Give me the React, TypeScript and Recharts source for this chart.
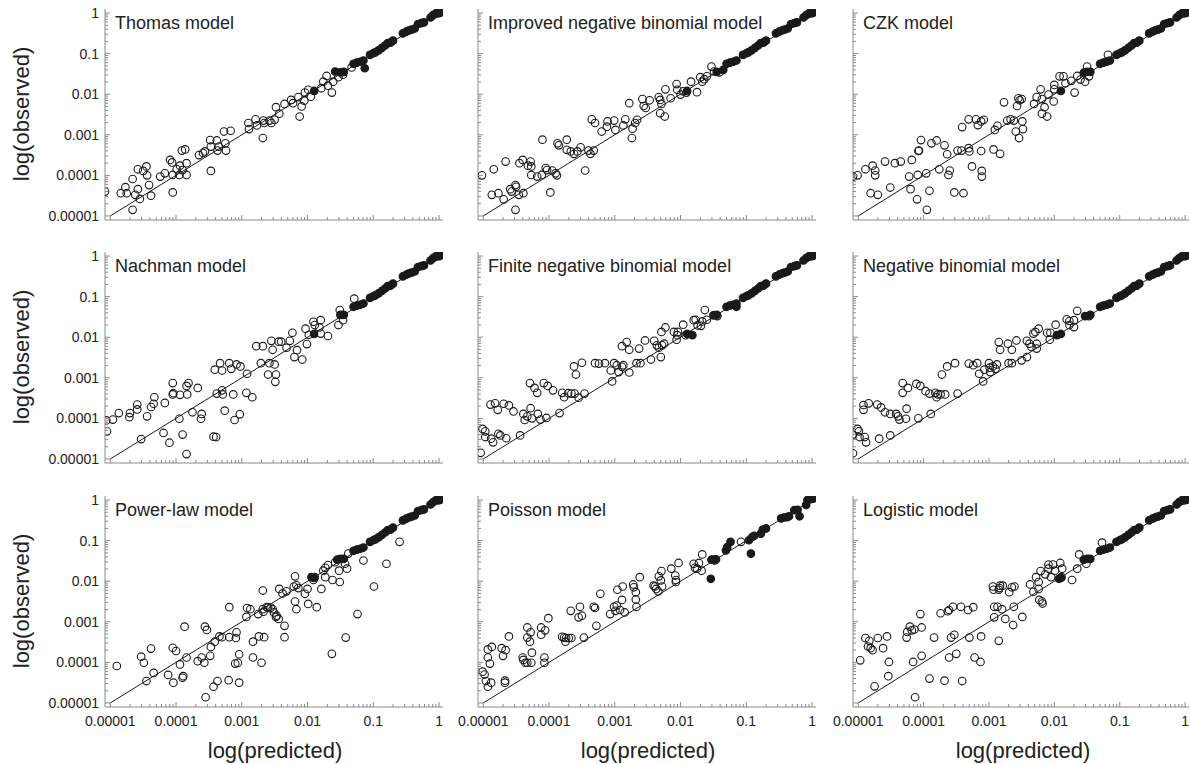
import { ReferenceLine, Scatter, ScatterChart, XAxis, YAxis } from "recharts";

type Pair = [number, number];

// values as log10(predicted), log10(observed)
const decadeTicks = [0.00001, 0.0001, 0.001, 0.01, 0.1, 1];
const decadeLabels = ["0.00001", "0.0001", "0.001", "0.01", "0.1", "1"];
const minorSteps = [2, 3, 4, 5, 6, 7, 8, 9];

const filledCore: Pair[] = [
  [-1.9, -1.92], [-1.45, -1.45], [-1.3, -1.25], [-1.25, -1.22], [-1.2, -1.2], [-1.15, -1.17],
  [-1.05, -1.03], [-1.0, -0.99], [-0.97, -0.97], [-0.92, -0.92], [-0.87, -0.86], [-0.82, -0.8],
  [-0.78, -0.74], [-0.74, -0.73], [-0.7, -0.68], [-0.55, -0.5], [-0.5, -0.46], [-0.46, -0.43],
  [-0.42, -0.41], [-0.37, -0.38], [-0.32, -0.27], [-0.27, -0.25], [-0.23, -0.23], [-0.13, -0.11],
  [-0.09, -0.05], [-0.05, -0.01], [-0.02, 0], [0, 0], [0.02, 0.01],
];

const thomasOpen: Pair[] = [
  [-5.08, -4.4], [-4.84, -4.44], [-4.77, -4.29], [-4.75, -4.44], [-4.66, -4.09], [-4.66, -4.85], [-4.62, -4.48],
  [-4.58, -4.34], [-4.55, -4.58], [-4.58, -3.85], [-4.5, -3.89], [-4.45, -3.78], [-4.44, -4.0], [-4.41, -4.24],
  [-4.38, -4.5], [-4.24, -4.03], [-4.17, -3.95], [-4.09, -3.62], [-4.06, -3.68], [-4.05, -4.42], [-4.05, -3.99],
  [-3.99, -3.85], [-3.95, -3.99], [-3.94, -3.76], [-3.91, -3.39], [-3.86, -3.36], [-3.84, -3.7], [-3.84, -3.99],
  [-3.9, -3.87], [-3.65, -3.5], [-3.59, -3.45], [-3.56, -3.41], [-3.48, -3.13], [-3.47, -3.29], [-3.47, -3.89],
  [-3.38, -3.14], [-3.37, -3.39], [-3.35, -3.29], [-3.27, -2.92], [-3.25, -3.21], [-3.24, -3.39], [-3.17, -2.9],
  [-2.9, -2.71], [-2.89, -2.86], [-2.79, -2.62], [-2.77, -2.77], [-2.67, -2.65], [-2.66, -2.71], [-2.68, -3.08],
  [-2.58, -2.65], [-2.55, -2.71], [-2.5, -2.63], [-2.43, -2.48], [-2.48, -2.32], [-2.35, -2.24], [-2.25, -2.14],
  [-2.22, -2.22], [-2.14, -2.07], [-2.12, -2.55], [-2.09, -2.3], [-2.05, -2.16], [-2.04, -1.96], [-1.99, -1.89],
  [-1.95, -2.06], [-1.79, -1.85], [-1.76, -1.69], [-1.71, -1.55], [-1.69, -1.79], [-1.63, -1.96], [-1.61, -1.69],
  [-1.53, -1.58], [-1.46, -1.52], [-1.33, -1.34],
];
const thomasFilled: Pair[] = [[-1.58, -1.44], [-1.5, -1.46], [-1.13, -1.36]];

const improvedOpen: Pair[] = [
  [-5.02, -4.0], [-4.87, -4.48], [-4.84, -3.85], [-4.77, -4.44], [-4.69, -4.59], [-4.66, -3.66], [-4.59, -4.34],
  [-4.57, -4.4], [-4.51, -4.24], [-4.5, -4.28], [-4.51, -4.85], [-4.46, -4.48], [-4.45, -3.7], [-4.4, -3.62],
  [-4.39, -4.44], [-4.32, -3.76], [-4.28, -3.66], [-4.27, -3.78], [-4.27, -3.99], [-4.18, -4.03], [-4.11, -3.99],
  [-4.1, -3.12], [-4.05, -3.82], [-4.03, -3.87], [-3.98, -4.42], [-3.95, -3.88], [-3.9, -3.95], [-3.88, -4.0],
  [-3.87, -3.21], [-3.85, -3.26], [-3.73, -3.12], [-3.73, -3.37], [-3.67, -3.41], [-3.62, -3.47], [-3.57, -3.41],
  [-3.52, -3.31], [-3.4, -3.39], [-3.37, -3.47], [-3.32, -3.39], [-3.45, -3.88], [-3.35, -2.62], [-3.3, -2.71],
  [-3.2, -2.92], [-3.12, -2.8], [-3.11, -2.67], [-3.01, -2.65], [-2.99, -2.88], [-2.87, -2.77], [-2.84, -2.62],
  [-2.78, -2.22], [-2.73, -2.85], [-2.74, -3.08], [-2.69, -2.71], [-2.66, -2.63], [-2.58, -2.12], [-2.56, -2.29],
  [-2.53, -2.34], [-2.47, -2.15], [-2.33, -2.07], [-2.31, -2.14], [-2.31, -2.47], [-2.24, -2.55], [-2.29, -2.24],
  [-2.23, -1.88], [-2.15, -2.1], [-2.06, -1.75], [-2.05, -1.89], [-2.0, -2.01], [-1.96, -1.93], [-1.91, -1.96],
  [-1.84, -1.69], [-1.75, -1.95], [-1.7, -1.58], [-1.67, -1.69], [-1.64, -1.63], [-1.6, -1.56], [-1.53, -1.32],
  [-1.49, -1.44], [-1.41, -1.46],
];
const improvedFilled: Pair[] = [[-1.35, -1.4]];

const czkOpen: Pair[] = [
  [-5.08, -4.03], [-5.01, -4.0], [-4.89, -3.85], [-4.78, -3.76], [-4.74, -3.88], [-4.74, -4.0], [-4.81, -4.44],
  [-4.7, -4.48], [-4.59, -3.66], [-4.51, -4.3], [-4.44, -3.7], [-4.35, -3.66], [-4.22, -4.03], [-4.2, -4.34],
  [-4.18, -3.62], [-4.1, -4.59], [-4.09, -3.99], [-4.08, -3.4], [-4.07, -3.39], [-4.04, -3.13], [-3.96, -3.95],
  [-3.95, -4.85], [-3.91, -4.38], [-3.88, -3.21], [-3.8, -3.14], [-3.76, -3.85], [-3.68, -3.26], [-3.64, -3.48],
  [-3.62, -3.99], [-3.6, -3.88], [-3.53, -4.42], [-3.41, -2.81], [-3.39, -4.44], [-3.48, -3.39], [-3.42, -3.39],
  [-3.31, -2.62], [-3.31, -3.33], [-3.3, -3.41], [-3.26, -3.78], [-3.2, -2.62], [-3.17, -2.76], [-3.12, -2.67],
  [-3.08, -2.63], [-3.12, -3.4], [-3.11, -4.03], [-3.11, -3.89], [-2.93, -3.36], [-2.91, -2.88], [-2.87, -2.78],
  [-2.83, -3.47], [-2.77, -2.2], [-2.72, -2.65], [-2.67, -2.62], [-2.62, -2.65], [-2.59, -2.92], [-2.54, -3.08],
  [-2.57, -2.29], [-2.55, -2.1], [-2.53, -2.15], [-2.5, -2.12], [-2.49, -2.67], [-2.48, -2.86], [-2.31, -2.24],
  [-2.27, -2.07], [-2.21, -1.88], [-2.19, -2.12], [-2.19, -2.48], [-2.15, -2.32], [-2.11, -2.55], [-2.09, -2.01],
  [-2.01, -2.18], [-2.0, -1.77], [-2.0, -1.88], [-1.92, -1.56], [-1.86, -1.56], [-1.83, -1.73], [-1.74, -1.67],
  [-1.69, -1.96], [-1.65, -1.55], [-1.6, -1.64], [-1.53, -1.69], [-1.5, -1.32], [-1.47, -1.56], [-1.18, -1.03],
];
const czkFilled: Pair[] = [[-1.55, -1.47], [-1.5, -1.45]];

const nachmanOpen: Pair[] = [
  [-5.06, -4.05], [-5.05, -4.32], [-4.96, -4.03], [-4.87, -3.87], [-4.71, -3.97], [-4.7, -3.87], [-4.59, -3.66],
  [-4.59, -3.78], [-4.53, -4.51], [-4.44, -3.95], [-4.38, -3.72], [-4.34, -3.64], [-4.33, -3.48], [-4.19, -4.36],
  [-4.17, -3.62], [-4.1, -4.6], [-4.05, -3.13], [-4.05, -3.41], [-4.04, -3.38], [-3.94, -3.42], [-3.95, -4.01],
  [-3.9, -4.4], [-3.84, -3.2], [-3.84, -4.88], [-3.81, -3.13], [-3.83, -3.41], [-3.75, -3.85], [-3.67, -3.25],
  [-3.62, -4.01], [-3.61, -3.89], [-3.43, -4.45], [-3.39, -4.46], [-3.41, -2.8], [-3.38, -3.39], [-3.33, -2.64],
  [-3.3, -2.82], [-3.29, -3.41], [-3.3, -3.31], [-3.26, -3.81], [-3.19, -2.64], [-3.16, -2.78], [-3.13, -3.41],
  [-3.11, -4.04], [-3.08, -2.67], [-3.03, -3.9], [-3.02, -2.72], [-2.93, -3.37], [-2.92, -2.9], [-2.84, -3.48],
  [-2.78, -2.22], [-2.68, -2.22], [-2.71, -2.64], [-2.6, -2.92], [-2.58, -2.64], [-2.55, -2.09], [-2.53, -2.31],
  [-2.5, -2.67], [-2.48, -2.92], [-2.49, -3.1], [-2.44, -2.11], [-2.4, -2.11], [-2.32, -2.26], [-2.27, -2.09],
  [-2.23, -1.89], [-2.2, -2.49], [-2.16, -2.32], [-2.08, -2.55], [-2.03, -1.79], [-2.01, -2.17], [-1.98, -1.94],
  [-1.91, -1.62], [-1.89, -1.7], [-1.82, -1.76], [-1.8, -1.58], [-1.8, -1.91], [-1.69, -1.97], [-1.53, -1.7],
  [-1.51, -1.33], [-1.46, -1.58], [-1.29, -1.05],
];
const nachmanFilled: Pair[] = [[-1.5, -1.45]];

const finiteOpen: Pair[] = [
  [-5.04, -4.85], [-5.01, -4.26], [-4.97, -4.32], [-4.97, -4.46], [-4.89, -3.66], [-4.88, -4.5], [-4.85, -4.59],
  [-4.82, -3.63], [-4.78, -3.79], [-4.77, -4.38], [-4.74, -4.42], [-4.69, -3.64], [-4.65, -4.49], [-4.61, -3.68],
  [-4.54, -3.83], [-4.44, -4.42], [-4.39, -3.89], [-4.37, -4.04], [-4.33, -3.95], [-4.29, -3.13], [-4.28, -3.75],
  [-4.26, -4.0], [-4.22, -3.25], [-4.18, -3.37], [-4.17, -3.89], [-4.13, -4.03], [-4.08, -3.13], [-4.04, -3.99],
  [-4.02, -3.2], [-3.94, -3.31], [-3.84, -3.87], [-3.8, -3.37], [-3.77, -3.48], [-3.71, -3.38], [-3.66, -3.39],
  [-3.61, -3.39], [-3.55, -3.49], [-3.46, -3.39], [-3.62, -2.72], [-3.59, -2.92], [-3.5, -2.63], [-3.3, -2.64],
  [-3.24, -2.65], [-3.15, -2.64], [-3.06, -2.82], [-3.04, -3.09], [-3.01, -2.64], [-2.97, -2.69], [-2.94, -2.86],
  [-2.89, -2.73], [-2.87, -2.69], [-2.78, -2.87], [-2.89, -2.22], [-2.82, -2.12], [-2.78, -2.31], [-2.63, -2.28],
  [-2.54, -2.08], [-2.67, -2.64], [-2.61, -2.64], [-2.45, -2.55], [-2.4, -2.09], [-2.36, -2.2], [-2.33, -2.26],
  [-2.3, -2.49], [-2.28, -2.2], [-2.25, -2.16], [-2.29, -1.87], [-2.23, -1.76], [-2.1, -1.87], [-2.06, -2.06],
  [-2.05, -1.95], [-2.04, -1.87], [-1.96, -1.69], [-1.92, -1.95], [-1.8, -1.58], [-1.77, -1.57], [-1.74, -1.71],
  [-1.69, -1.72], [-1.67, -1.61], [-1.63, -1.33], [-1.6, -1.57], [-1.44, -1.48],
];
const finiteFilled: Pair[] = [[-1.82, -1.95], [-1.5, -1.46], [-1.15, -1.25]];

const negbinOpen: Pair[] = [
  [-5.08, -4.4], [-5.08, -4.86], [-5.01, -4.26], [-4.99, -4.32], [-4.98, -4.46], [-4.92, -3.67], [-4.92, -3.79],
  [-4.9, -4.46], [-4.88, -4.59], [-4.84, -3.63], [-4.71, -3.66], [-4.68, -4.5], [-4.65, -3.73], [-4.59, -3.85],
  [-4.51, -3.89], [-4.51, -4.42], [-4.42, -3.89], [-4.39, -3.95], [-4.37, -4.03], [-4.32, -3.13], [-4.32, -3.37],
  [-4.27, -4.01], [-4.26, -3.76], [-4.24, -3.25], [-4.11, -3.15], [-4.08, -4.0], [-4.05, -3.2], [-3.97, -3.33],
  [-3.91, -3.39], [-3.89, -3.89], [-3.82, -3.37], [-3.8, -3.48], [-3.78, -3.41], [-3.74, -3.41], [-3.67, -3.41],
  [-3.72, -2.92], [-3.64, -2.72], [-3.52, -2.64], [-3.48, -3.39], [-3.31, -2.65], [-3.24, -2.69], [-3.18, -2.64],
  [-3.15, -2.9], [-3.09, -3.09], [-3.07, -2.8], [-3.0, -2.64], [-2.99, -2.75], [-2.98, -2.86], [-2.94, -2.72],
  [-2.88, -2.67], [-2.9, -2.78], [-2.7, -2.64], [-2.65, -2.64], [-2.5, -2.57], [-2.42, -2.49], [-2.85, -2.12],
  [-2.83, -2.31], [-2.71, -2.16], [-2.65, -2.31], [-2.58, -2.08], [-2.42, -2.09], [-2.38, -2.16], [-2.35, -2.24],
  [-2.32, -1.91], [-2.29, -1.87], [-2.27, -2.16], [-2.27, -2.28], [-2.24, -1.79], [-2.11, -1.89], [-2.06, -1.89],
  [-1.98, -1.69], [-2.07, -2.06], [-1.81, -1.56], [-1.77, -1.6], [-1.7, -1.58], [-1.77, -1.7], [-1.7, -1.75],
  [-1.65, -1.35], [-1.47, -1.48],
];
const negbinFilled: Pair[] = [[-1.96, -1.95], [-1.53, -1.48]];

const powerOpen: Pair[] = [
  [-4.9, -4.09], [-4.53, -3.86], [-4.49, -4.01], [-4.38, -3.66], [-4.45, -4.46], [-4.34, -4.26], [-4.12, -4.31],
  [-4.05, -3.64], [-4.0, -3.72], [-4.04, -4.5], [-3.94, -4.05], [-3.9, -4.38], [-3.89, -4.34], [-3.87, -3.12],
  [-3.84, -3.88], [-3.67, -3.97], [-3.61, -3.88], [-3.57, -4.01], [-3.56, -3.12], [-3.53, -3.2], [-3.48, -3.84],
  [-3.47, -3.62], [-3.55, -4.86], [-3.43, -4.6], [-3.41, -3.49], [-3.37, -4.46], [-3.34, -3.36], [-3.3, -3.38],
  [-3.19, -3.38], [-3.2, -4.44], [-3.19, -2.64], [-3.1, -4.03], [-3.09, -3.4], [-3.08, -3.26], [-3.06, -4.01],
  [-3.04, -3.8], [-3.04, -4.5], [-2.93, -2.88], [-2.92, -2.66], [-2.87, -2.69], [-2.83, -3.88], [-2.83, -3.49],
  [-2.75, -2.81], [-2.74, -3.36], [-2.7, -4.01], [-2.68, -2.69], [-2.68, -2.23], [-2.66, -3.38], [-2.67, -2.75],
  [-2.62, -2.64], [-2.6, -2.65], [-2.56, -2.65], [-2.53, -2.69], [-2.51, -2.77], [-2.48, -2.88], [-2.44, -2.93],
  [-2.47, -2.85], [-2.43, -2.19], [-2.38, -2.3], [-2.35, -3.1], [-2.35, -3.38], [-2.32, -2.25], [-2.21, -2.13],
  [-2.19, -1.88], [-2.19, -2.5], [-2.17, -2.69], [-2.17, -2.1], [-2.14, -2.17], [-2.04, -2.31], [-2.0, -2.19],
  [-1.99, -2.56], [-1.86, -2.64], [-1.91, -1.97], [-1.89, -1.9], [-1.79, -2.19], [-1.76, -1.74], [-1.73, -1.67],
  [-1.73, -1.9], [-1.69, -1.6], [-1.63, -3.79], [-1.62, -1.97], [-1.58, -1.53], [-1.52, -1.74], [-1.51, -2.02],
  [-1.43, -1.57], [-1.4, -1.69], [-1.42, -3.39], [-1.38, -1.32], [-1.24, -2.81], [-1.15, -1.49], [-0.99, -2.13],
  [-0.8, -1.57], [-0.6, -1.03],
];
const powerFilled: Pair[] = [[-1.94, -1.9], [-1.55, -1.47], [-1.5, -1.45]];

const poissonOpen: Pair[] = [
  [-5.01, -4.23], [-4.98, -4.3], [-4.96, -4.46], [-4.93, -4.6], [-4.93, -3.88], [-4.93, -3.68], [-4.9, -4.03],
  [-4.88, -4.5], [-4.87, -3.62], [-4.72, -3.65], [-4.7, -3.84], [-4.67, -4.45], [-4.66, -3.7], [-4.67, -4.5],
  [-4.61, -3.36], [-4.4, -3.88], [-4.39, -3.94], [-4.36, -4.01], [-4.33, -4.01], [-4.33, -3.14], [-4.33, -3.39],
  [-4.29, -3.49], [-4.28, -3.26], [-4.27, -4.01], [-4.26, -3.76], [-4.12, -3.14], [-4.12, -3.32], [-4.06, -3.21],
  [-4.07, -3.88], [-4.07, -4.01], [-4.01, -2.91], [-3.8, -3.37], [-3.77, -3.39], [-3.74, -3.4], [-3.7, -3.4],
  [-3.66, -3.4], [-3.75, -3.49], [-3.67, -2.73], [-3.53, -2.63], [-3.55, -2.89], [-3.5, -2.85], [-3.47, -3.39],
  [-3.32, -2.63], [-3.3, -2.66], [-3.28, -3.1], [-3.22, -2.31], [-3.07, -2.81], [-3.01, -2.63], [-2.99, -2.73],
  [-2.97, -2.6], [-2.96, -2.21], [-2.92, -2.71], [-2.89, -2.46], [-2.88, -2.13], [-2.85, -2.77], [-2.72, -2.08],
  [-2.71, -2.15], [-2.68, -2.45], [-2.67, -2.63], [-2.68, -2.27], [-2.62, -1.9], [-2.41, -2.11], [-2.39, -2.13],
  [-2.37, -2.19], [-2.34, -2.25], [-2.33, -1.88], [-2.3, -1.98], [-2.29, -1.75], [-2.28, -2.13], [-2.14, -1.69],
  [-2.08, -1.86], [-2.07, -1.97], [-2.07, -2.02], [-2.03, -1.55], [-1.8, -1.57], [-1.78, -1.67], [-1.75, -1.69],
  [-1.72, -1.55], [-1.67, -1.34], [-1.68, -1.74], [-1.48, -1.49], [-1.08, -1.03],
];
const poissonFilled: Pair[] = [
  [-1.54, -1.94], [-1.53, -1.47], [-1.5, -1.47], [-1.46, -1.46], [-1.31, -1.24], [-1.29, -1.16], [-1.24, -1.03],
  [-0.93, -1.32], [-0.96, -0.99], [-0.91, -0.91], [-0.88, -0.88], [-0.78, -0.83], [-0.75, -0.73], [-0.7, -0.7],
  [-0.47, -0.45], [-0.43, -0.43], [-0.38, -0.42], [-0.35, -0.4], [-0.27, -0.25], [-0.22, -0.24], [-0.19, -0.4],
  [-0.09, -0.12], [-0.07, 0.0], [-0.02, 0.02], [0.02, 0.04],
];

const logisticOpen: Pair[] = [
  [-4.97, -3.95], [-4.89, -3.4], [-4.85, -3.61], [-4.83, -3.47], [-4.81, -3.65], [-4.78, -3.7], [-4.75, -4.59],
  [-4.7, -3.4], [-4.62, -3.65], [-4.56, -3.36], [-4.53, -3.99], [-4.54, -4.34], [-4.26, -3.39], [-4.25, -3.25],
  [-4.21, -3.12], [-4.18, -3.21], [-4.16, -3.99], [-4.14, -3.19], [-4.13, -4.86], [-4.05, -2.81], [-4.03, -3.84],
  [-4.03, -3.14], [-3.91, -4.4], [-3.84, -3.39], [-3.74, -2.79], [-3.68, -4.45], [-3.63, -2.74], [-3.61, -2.71],
  [-3.61, -3.88], [-3.58, -3.39], [-3.55, -2.63], [-3.53, -3.32], [-3.5, -3.79], [-3.43, -2.63], [-3.41, -4.46],
  [-3.32, -2.71], [-3.3, -3.39], [-3.24, -2.64], [-3.22, -3.88], [-3.13, -3.99], [-3.12, -3.36], [-2.94, -2.13],
  [-2.93, -2.21], [-2.92, -2.63], [-2.92, -2.89], [-2.87, -2.63], [-2.85, -2.21], [-2.84, -2.17], [-2.83, -2.11],
  [-2.8, -2.69], [-2.79, -2.11], [-2.75, -2.93], [-2.85, -3.47], [-2.69, -2.27], [-2.65, -2.15], [-2.61, -2.13],
  [-2.62, -2.63], [-2.63, -3.08], [-2.49, -2.88], [-2.37, -2.08], [-2.32, -2.26], [-2.28, -1.9], [-2.24, -2.02],
  [-2.24, -2.19], [-2.23, -2.46], [-2.21, -1.75], [-2.19, -2.5], [-2.18, -2.55], [-2.14, -1.83], [-2.09, -1.59],
  [-2.09, -1.69], [-2.05, -1.9], [-2.02, -1.59], [-1.99, -1.74], [-1.91, -1.55], [-1.88, -1.69], [-1.89, -1.9],
  [-1.73, -1.97], [-1.65, -1.69], [-1.62, -1.34], [-1.51, -1.57], [-1.27, -1.05],
];
const logisticFilled: Pair[] = [[-1.93, -1.94], [-1.55, -1.47], [-1.5, -1.45]];

const logTicks = decadeTicks.flatMap((d) => (d < 1 ? [d, ...minorSteps.map((m) => d * m)] : [d]));
const X_DOMAIN = [10 ** -5.08, 10 ** 0.06];
const Y_DOMAIN = [10 ** -5.1, 10 ** 0.1];

const FONT = '"Liberation Sans", Arial, Helvetica, sans-serif';
const AXIS = "#8a8a8a";
const INK = "#1a1a1a";

const COL_LEFT = [105, 478, 853];
const COL_WIDTH = [338, 338, 336];
const ROW_TOP = [9, 252, 496];
const PLOT_H = 211;

const toPoints = (pairs: Pair[]) => pairs.map(([p, o]) => ({ predicted: 10 ** p, observed: 10 ** o }));

const panels = [
  { title: "Thomas model", open: thomasOpen, filled: [...filledCore, ...thomasFilled] },
  { title: "Improved negative binomial model", open: improvedOpen, filled: [...filledCore, ...improvedFilled] },
  { title: "CZK model", open: czkOpen, filled: [...filledCore, ...czkFilled] },
  { title: "Nachman model", open: nachmanOpen, filled: [...filledCore, ...nachmanFilled] },
  { title: "Finite negative binomial model", open: finiteOpen, filled: [...filledCore, ...finiteFilled] },
  { title: "Negative binomial model", open: negbinOpen, filled: [...filledCore, ...negbinFilled] },
  { title: "Power-law model", open: powerOpen, filled: [...filledCore, ...powerFilled] },
  { title: "Poisson model", open: poissonOpen, filled: poissonFilled },
  { title: "Logistic model", open: logisticOpen, filled: [...filledCore, ...logisticFilled] },
];

function labelFor(value: number) {
  const i = decadeTicks.indexOf(value);
  return i >= 0 ? decadeLabels[i] : null;
}

function XTick({ x, y, payload, showLabel }: any) {
  const label = labelFor(payload.value);
  return (
    <g>
      <line x1={x} x2={x} y1={y} y2={y - (label ? 5 : 3)} stroke={AXIS} />
      {showLabel && label ? (
        <text x={x} y={y + 19} textAnchor="middle" fontSize={14} fill="#222" fontFamily={FONT}>
          {label}
        </text>
      ) : null}
    </g>
  );
}

function YTick({ x, y, payload, showLabel }: any) {
  const label = labelFor(payload.value);
  return (
    <g>
      <line x1={x} x2={x + (label ? 5 : 3)} y1={y} y2={y} stroke={AXIS} />
      {showLabel && label ? (
        <text x={x - 6} y={y} dy="0.35em" textAnchor="end" fontSize={14} fill="#222" fontFamily={FONT}>
          {label}
        </text>
      ) : null}
    </g>
  );
}

const openDot = (props: any) => (
  <circle cx={props.cx} cy={props.cy} r={3.8} fill="none" stroke={INK} strokeWidth={1.1} />
);
const filledDot = (props: any) => (
  <circle cx={props.cx} cy={props.cy} r={3.8} fill={INK} stroke={INK} strokeWidth={1.1} />
);

function Panel({ index }: { index: number }) {
  const panel = panels[index];
  const row = Math.floor(index / 3);
  const col = index % 3;
  const left = COL_LEFT[col];
  const top = ROW_TOP[row];
  const plotW = COL_WIDTH[col];
  const showY = col === 0;
  const showX = row === 2;
  const axisW = showY ? left : 20;
  const axisH = showX ? 30 : 14;
  const mt = 9;
  const mr = 12;

  return (
    <>
      <div style={{ position: "absolute", left: left - axisW, top: top - mt }}>
        <ScatterChart
          width={axisW + plotW + mr}
          height={mt + PLOT_H + axisH}
          margin={{ top: mt, right: mr, bottom: 0, left: 0 }}
        >
          <XAxis
            type="number"
            dataKey="predicted"
            scale="log"
            domain={X_DOMAIN}
            allowDataOverflow
            ticks={logTicks}
            interval={0}
            height={axisH}
            tickSize={0}
            tickMargin={0}
            tickLine={false}
            axisLine={{ stroke: AXIS, strokeWidth: 1 }}
            tick={(p: any) => <XTick {...p} showLabel={showX} />}
          />
          <YAxis
            type="number"
            dataKey="observed"
            scale="log"
            domain={Y_DOMAIN}
            allowDataOverflow
            ticks={logTicks}
            interval={0}
            width={axisW}
            tickSize={0}
            tickMargin={0}
            tickLine={false}
            axisLine={{ stroke: AXIS, strokeWidth: 1 }}
            tick={(p: any) => <YTick {...p} showLabel={showY} />}
          />
          <ReferenceLine
            segment={[
              { x: decadeTicks[0], y: decadeTicks[0] },
              { x: decadeTicks[5], y: decadeTicks[5] },
            ]}
            stroke={INK}
            strokeWidth={1}
            ifOverflow="visible"
          />
          <Scatter data={toPoints(panel.open)} shape={openDot} isAnimationActive={false} />
          <Scatter data={toPoints(panel.filled)} shape={filledDot} isAnimationActive={false} />
        </ScatterChart>
      </div>
      <div
        style={{
          position: "absolute",
          left: left + 10,
          top: top + 5,
          fontSize: 18,
          lineHeight: "18px",
          color: "#222",
          whiteSpace: "nowrap",
        }}
      >
        {panel.title}
      </div>
      {showY ? (
        <div
          style={{
            position: "absolute",
            left: 22,
            top: top + 105,
            fontSize: 22,
            lineHeight: "22px",
            color: "#222",
            whiteSpace: "nowrap",
            transform: "translate(-50%, -50%) rotate(-90deg)",
          }}
        >
          log(observed)
        </div>
      ) : null}
      {showX ? (
        <div
          style={{
            position: "absolute",
            left: left + 170,
            top: 740,
            fontSize: 22,
            lineHeight: "22px",
            color: "#222",
            whiteSpace: "nowrap",
            transform: "translateX(-50%)",
          }}
        >
          log(predicted)
        </div>
      ) : null}
    </>
  );
}

export default function App() {
  return (
    <div
      style={{
        position: "absolute",
        left: 0,
        top: 0,
        width: 1190,
        height: 764,
        overflow: "hidden",
        background: "#fff",
        fontFamily: FONT,
      }}
    >
      {panels.map((p, i) => (
        <Panel key={p.title} index={i} />
      ))}
    </div>
  );
}
